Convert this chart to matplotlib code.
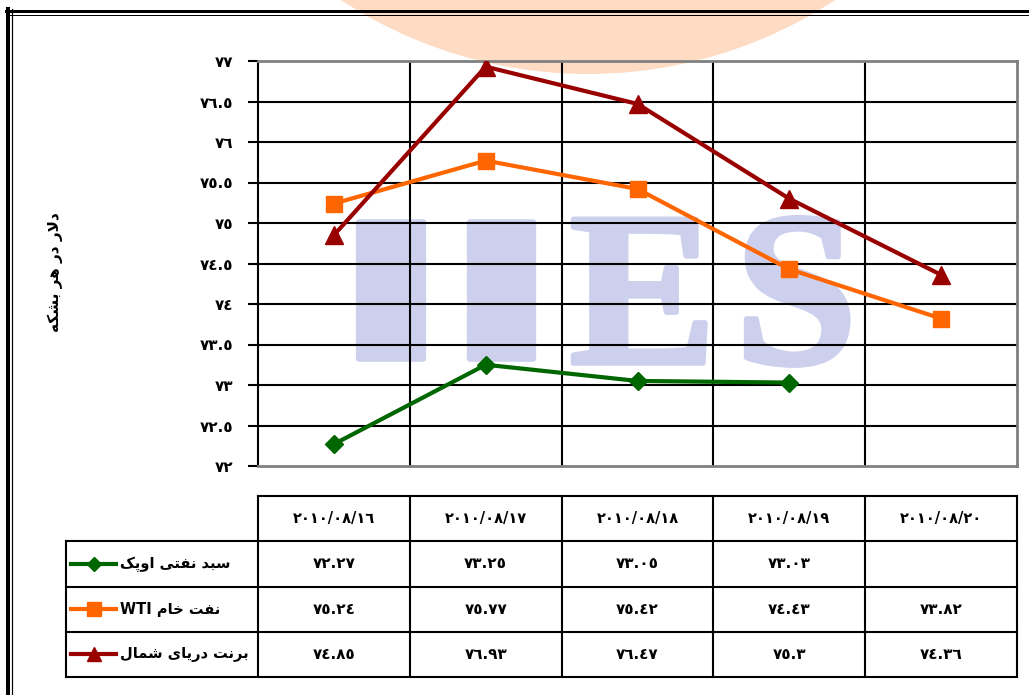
import re
import numpy as np
import matplotlib
matplotlib.use("Agg")
import matplotlib.pyplot as plt
import matplotlib.patheffects as pe
from matplotlib.patches import Ellipse, FancyBboxPatch
from matplotlib.lines import Line2D
from matplotlib.ticker import FixedLocator, FuncFormatter

# ---------------- data ----------------
dates = ["2010/08/16", "2010/08/17", "2010/08/18", "2010/08/19", "2010/08/20"]
series_names = ["سبد نفتی اوپک", "نفت خام WTI", "برنت دریای شمال"]
opec = [72.27, 73.25, 73.05, 73.03, None]
wti = [75.24, 75.77, 75.42, 74.43, 73.82]
brent = [74.85, 76.93, 76.47, 75.3, 74.36]
y_label = "دلار در هر بشکه"
y_min, y_max, y_step = 72, 77, 0.5
watermark = "IIES"

# ---------------- helpers ----------------
AR_DIGITS = str.maketrans("0123456789", "٠١٢٣٤٥٦٧٨٩")


def ar_num(s):
    return str(s).translate(AR_DIGITS)


FORMS = {
    'ا': (0xFE8D, 0xFE8E, None, None),
    'ب': (0xFE8F, 0xFE90, 0xFE91, 0xFE92),
    'پ': (0xFB56, 0xFB57, 0xFB58, 0xFB59),
    'ت': (0xFE95, 0xFE96, 0xFE97, 0xFE98),
    'خ': (0xFEA5, 0xFEA6, 0xFEA7, 0xFEA8),
    'د': (0xFEA9, 0xFEAA, None, None),
    'ر': (0xFEAD, 0xFEAE, None, None),
    'س': (0xFEB1, 0xFEB2, 0xFEB3, 0xFEB4),
    'ش': (0xFEB5, 0xFEB6, 0xFEB7, 0xFEB8),
    'ف': (0xFED1, 0xFED2, 0xFED3, 0xFED4),
    'ک': (0xFB8E, 0xFB8F, 0xFB90, 0xFB91),
    'ل': (0xFEDD, 0xFEDE, 0xFEDF, 0xFEE0),
    'م': (0xFEE1, 0xFEE2, 0xFEE3, 0xFEE4),
    'ن': (0xFEE5, 0xFEE6, 0xFEE7, 0xFEE8),
    'ه': (0xFEE9, 0xFEEA, 0xFEEB, 0xFEEC),
    'و': (0xFEED, 0xFEEE, None, None),
    'ی': (0xFBFC, 0xFBFD, 0xFBFE, 0xFBFF),
}
LAMALEF = (0xFEFB, 0xFEFC, None, None)


def shape(text):
    units = []
    i = 0
    while i < len(text):
        c = text[i]
        if c == 'ل' and i + 1 < len(text) and text[i + 1] == 'ا':
            units.append(('LA', LAMALEF))
            i += 2
            continue
        units.append((c, FORMS.get(c)))
        i += 1
    out = []
    for k, (c, f) in enumerate(units):
        if f is None:
            out.append(c)
            continue
        prev = units[k - 1][1] if k > 0 else None
        nxt = units[k + 1][1] if k + 1 < len(units) else None
        jp = prev is not None and prev[2] is not None
        jn = nxt is not None and f[2] is not None
        if jp and jn:
            code = f[3]
        elif jp:
            code = f[1]
        elif jn:
            code = f[2]
        else:
            code = f[0]
        out.append(chr(code))
    vis = ''.join(reversed(out))
    vis = re.sub(r'[A-Za-z0-9]+', lambda m: m.group(0)[::-1], vis)
    return vis


W, H = 1029, 695
fig = plt.figure(figsize=(W / 100, H / 100), dpi=100)
fig.patch.set_facecolor("white")


def P(x, y):
    return (x / W, 1 - y / H)


def rect(l, t, r, b):
    return [l / W, 1 - b / H, (r - l) / W, (b - t) / H]


FONT = "DejaVu Sans"

# peach logo watermark (top)
fig.add_artist(Ellipse(P(588, -376), 2 * 450 / W, 2 * 450 / H, transform=fig.transFigure,
                       facecolor="#FDDCC3", edgecolor="none", zorder=-5))

# frame lines
for (y, lw) in [(10.5, 3.0), (14.5, 1.0)]:
    fig.add_artist(Line2D([P(6, 0)[0], 1], [P(0, y)[1]] * 2, transform=fig.transFigure,
                          color="black", lw=lw * 0.72, zorder=10))
for (x, lw) in [(8, 4.0), (11.5, 1.2)]:
    fig.add_artist(Line2D([P(x, 0)[0]] * 2, [P(0, 9)[1], 0], transform=fig.transFigure,
                          color="black", lw=lw * 0.72, zorder=10))

# ---------------- chart ----------------
ax = fig.add_axes(rect(258, 61, 1017, 466))
ax.patch.set_alpha(0)
x = np.arange(len(dates))
ax.set_xlim(-0.5, len(dates) - 0.5)
ax.set_ylim(y_min, y_max)

yt = np.arange(y_min, y_max + y_step / 2, y_step)
ax.yaxis.set_major_locator(FixedLocator(yt))
ax.yaxis.set_major_formatter(FuncFormatter(lambda v, p: ar_num(f"{v:g}")))
for v in yt[1:-1]:
    ax.axhline(v, color="black", lw=1.5, zorder=1)
for b in x[:-1] + 0.5:
    ax.axvline(b, color="black", lw=1.5, zorder=1)

ax.set_xticks([])
ax.tick_params(axis="y", direction="out", length=7, width=1.5, pad=11,
               labelsize=11)
for lab in ax.get_yticklabels():
    lab.set_fontweight("bold")
    lab.set_family(FONT)
for s in ["top", "right", "bottom"]:
    ax.spines[s].set_color("#808080")
    ax.spines[s].set_linewidth(2)
ax.spines["left"].set_color("black")
ax.spines["left"].set_linewidth(1.5)

# IIES watermark
wm_col = "#CCD0EC"
for (l, r) in [(356, 426), (467, 536)]:
    fig.add_artist(FancyBboxPatch(P(l + 4, 363 - 4), (r - l - 8) / W, (145 - 8) / H,
                                  boxstyle="round,pad=0.004", transform=fig.transFigure,
                                  facecolor=wm_col, edgecolor="none", zorder=0.3))
thick = [pe.withStroke(linewidth=4, foreground=wm_col)]
fig.text(*P(643, 363), watermark[2], fontsize=158, fontweight="bold",
         family="Liberation Serif", color=wm_col, ha="center", va="baseline",
         zorder=0.3, path_effects=thick)
fig.text(*P(796, 363), watermark[3], fontsize=158, fontweight="bold",
         family="Liberation Serif", color=wm_col, ha="center", va="baseline",
         zorder=0.3, path_effects=thick)
ax.set_zorder(1)

colors = ["#006600", "#FF6600", "#990000"]
markers = ["D", "s", "^"]
msizes = [9.5, 12, 12.5]
all_series = [opec, wti, brent]
for vals, c, m, ms in zip(all_series, colors, markers, msizes):
    xs = [xi for xi, v in zip(x, vals) if v is not None]
    ys = [v for v in vals if v is not None]
    ax.plot(xs, ys, color=c, lw=3, marker=m, ms=ms, zorder=3)

fig.text(*P(55, 272), shape(y_label), rotation=90, ha="center", va="center",
         fontsize=11, fontweight="bold", family=FONT)

# ---------------- table ----------------
tab = fig.add_axes(rect(258, 496, 1017, 677))
tab.set_xlim(-0.5, len(dates) - 0.5)
tab.set_ylim(len(all_series) + 1, 0)
tab.axis("off")
xl = -0.5 - (258 - 66) / ((1017 - 258) / len(dates))
n = len(all_series) + 1
kw = dict(color="black", lw=1.5, clip_on=False, solid_capstyle="projecting")
tab.plot([-0.5, len(dates) - 0.5], [0, 0], **kw)
for r in range(1, n + 1):
    tab.plot([xl, len(dates) - 0.5], [r, r], **kw)
for b in np.arange(len(dates) + 1) - 0.5:
    tab.plot([b, b], [0, n], **kw)
tab.plot([xl, xl], [1, n], **kw)

for i, d in enumerate(dates):
    tab.text(i, 0.5, ar_num(d), ha="center", va="center", fontsize=10.5,
             fontweight="bold", family=FONT)
for r, vals in enumerate(all_series):
    for i, v in enumerate(vals):
        if v is None:
            continue
        tab.text(i, r + 1.5, ar_num(f"{v:g}"), ha="center", va="center",
                 fontsize=11, fontweight="bold", family=FONT)

# legend keys in the label column
for r, (name, c, m, ms) in enumerate(zip(series_names, colors, markers, msizes)):
    yc = 496 + (r + 1.5) * (677 - 496) / n
    fig.add_artist(Line2D([P(71, 0)[0], P(116, 0)[0]], [P(0, yc)[1]] * 2,
                          transform=fig.transFigure, color=c, lw=3))
    fig.add_artist(Line2D([P(93.5, 0)[0]], [P(0, yc)[1]], transform=fig.transFigure,
                          color=c, marker=m, ms=ms * 0.8, lw=0))
    fig.text(*P(120, yc), shape(name), ha="left", va="center", fontsize=10.5,
             fontweight="bold", family=FONT)

fig.savefig("out.png", dpi=100)
